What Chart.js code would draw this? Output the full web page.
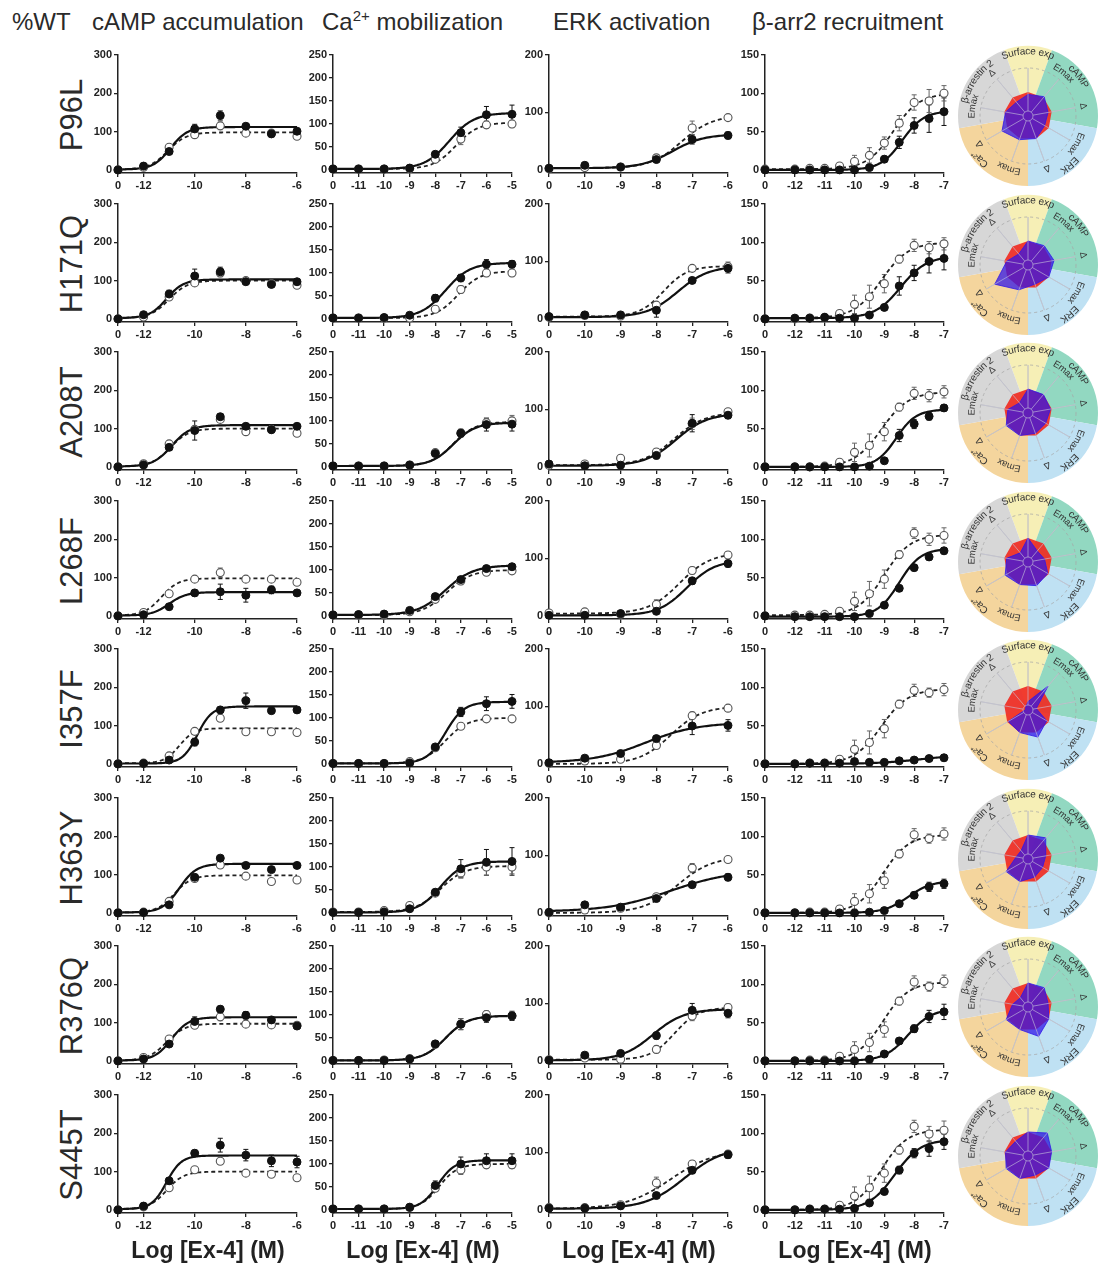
<!DOCTYPE html>
<html>
<head>
<meta charset="utf-8">
<script src="https://cdn.jsdelivr.net/npm/chart.js@4.4.1/dist/chart.umd.min.js"></script>
<style>
  body { margin: 0; background: #fff; width: 1103px; height: 1270px; position: relative; overflow: hidden;
         font-family: "Liberation Sans", Arial, sans-serif; color: #2a2a2a; }
  .hdr { position: absolute; top: 8px; font-size: 24px; line-height: 28px; white-space: nowrap; }
  .hdr sup { font-size: 15px; line-height: 0; vertical-align: 9px; }
  .mutlab { position: absolute; width: 120px; height: 40px; line-height: 40px; text-align: center;
            font-size: 31px; transform: rotate(-90deg); white-space: nowrap; }
  .xtitle { position: absolute; top: 1236px; width: 220px; text-align: center; font-weight: bold;
            font-size: 23px; line-height: 28px; white-space: nowrap; color: #222; }
  canvas { position: absolute; }
</style>
</head>
<body>
<div class="hdr" style="left:12px">%WT</div>
<div class="hdr" style="left:92px">cAMP accumulation</div>
<div class="hdr" style="left:322px">Ca<sup>2+</sup> mobilization</div>
<div class="hdr" style="left:553px">ERK activation</div>
<div class="hdr" style="left:752px">β-arr2 recruitment</div>

<script>
// ------------------------------------------------------------
// Данные: мутанты GLP-1R, кривые доза-ответ (%WT) и радары
// ------------------------------------------------------------
const mutants = ["P96L", "H171Q", "A208T", "L268F", "I357F", "H363Y", "R376Q", "S445T"];

// cAMP accumulation (первая точка = "0", без агониста)
const campDoses = [-13, -12, -11, -10, -9, -8, -7, -6];
const campTicksX = [-13, -12, -10, -8, -6];
const campTicksY = [0, 100, 200, 300];
const campMut = [
  [0, 10, 48, 107, 142, 114, 94, 101],
  [0, 11, 65, 112, 123, 97, 90, 97],
  [0, 5, 51, 95, 131, 106, 97, 106],
  [0, 3, 24, 60, 63, 54, 68, 60],
  [0, 1, 10, 57, 141, 165, 139, 141],
  [0, 1, 21, 93, 143, 124, 113, 124],
  [0, 5, 44, 103, 135, 119, 107, 91],
  [0, 10, 76, 148, 169, 143, 128, 125],
];
const campWT = [
  [0, 7, 59, 92, 115, 96, 96, 88],
  [0, 5, 57, 94, 120, 100, 92, 88],
  [0, 8, 60, 98, 124, 92, 98, 88],
  [0, 9, 58, 96, 113, 96, 96, 88],
  [0, 2, 21, 85, 119, 84, 84, 82],
  [0, 2, 30, 90, 125, 96, 82, 86],
  [0, 9, 57, 93, 115, 96, 94, 93],
  [0, 8, 58, 105, 127, 96, 93, 84],
];
const campMutErr = [
  [0, 3, 8, 12, 12, 5, 5, 5],
  [0, 4, 10, 18, 12, 5, 5, 5],
  [0, 3, 8, 25, 8, 5, 5, 5],
  [0, 3, 5, 8, 20, 18, 10, 6],
  [0, 2, 4, 10, 8, 20, 5, 5],
  [0, 2, 5, 6, 6, 5, 5, 5],
  [0, 3, 6, 12, 8, 10, 5, 5],
  [0, 4, 8, 8, 18, 15, 15, 15],
];
const campWTErr = [
  [0, 3, 6, 6, 10, 5, 5, 5],
  [0, 3, 6, 8, 10, 5, 5, 5],
  [0, 3, 6, 8, 8, 5, 5, 5],
  [0, 3, 6, 6, 12, 5, 5, 5],
  [0, 2, 5, 6, 8, 5, 5, 5],
  [0, 2, 5, 6, 8, 5, 5, 5],
  [0, 3, 6, 6, 10, 5, 5, 5],
  [0, 3, 6, 6, 8, 5, 5, 5],
];
// параметры подгонки: [bottom, top, logEC50, hill]
const campFitMut = [
  [1, 112, -10.95, 1.3], [2, 103, -11.1, 1.3], [1, 109, -10.9, 1.2], [1, 62, -11.0, 1.3],
  [1, 150, -9.9, 1.5], [1, 128, -10.6, 1.3], [1, 114, -10.9, 1.3], [2, 142, -11.1, 1.5],
];
const campFitWT = [
  [1, 98, -11.05, 1.2], [2, 100, -11.0, 1.2], [1, 100, -10.95, 1.2], [1, 98, -11.3, 1.3],
  [2, 93, -10.6, 1.5], [1, 98, -10.8, 1.3], [1, 97, -11.1, 1.2], [2, 100, -11.1, 1.3],
];

// Ca2+ mobilization
const caDoses = [-12, -11, -10, -9, -8, -7, -6, -5];
const caTicksX = [-12, -11, -10, -9, -8, -7, -6, -5];
const caTicksY = [0, 50, 100, 150, 200, 250];
const caMut = [
  [2, 2, 2, 4, 34, 81, 120, 121],
  [2, 2, 3, 8, 45, 89, 119, 119],
  [2, 2, 2, 4, 29, 73, 92, 93],
  [2, 3, 4, 12, 42, 79, 103, 107],
  [1, 1, 1, 2, 37, 113, 131, 136],
  [1, 1, 2, 9, 45, 96, 110, 112],
  [1, 1, 1, 4, 37, 80, 94, 98],
  [2, 2, 2, 6, 53, 100, 107, 107],
];
const caWT = [
  [2, 2, 2, 3, 23, 67, 98, 100],
  [2, 2, 2, 2, 21, 64, 100, 100],
  [2, 2, 2, 4, 31, 74, 96, 100],
  [2, 2, 2, 9, 36, 76, 95, 98],
  [1, 1, 1, 5, 35, 82, 98, 98],
  [2, 2, 5, 16, 43, 87, 100, 100],
  [1, 1, 2, 5, 36, 80, 101, 98],
  [2, 2, 2, 5, 47, 87, 98, 98],
];
const caMutErr = [
  [0, 0, 0, 2, 5, 12, 18, 20],
  [0, 0, 0, 2, 8, 8, 10, 8],
  [0, 0, 0, 2, 6, 8, 14, 15],
  [0, 0, 0, 2, 4, 6, 5, 5],
  [0, 0, 0, 1, 5, 10, 15, 15],
  [0, 0, 0, 2, 6, 20, 28, 30],
  [0, 0, 0, 2, 6, 12, 10, 10],
  [0, 0, 0, 2, 10, 15, 15, 15],
];
const caWTErr = [
  [0, 0, 0, 2, 4, 12, 8, 8],
  [0, 0, 0, 2, 4, 8, 8, 8],
  [0, 0, 0, 2, 4, 8, 10, 12],
  [0, 0, 0, 2, 4, 8, 6, 6],
  [0, 0, 0, 2, 4, 6, 6, 6],
  [0, 0, 0, 2, 4, 10, 18, 15],
  [0, 0, 0, 2, 4, 12, 8, 8],
  [0, 0, 0, 2, 4, 10, 8, 8],
];
const caFitMut = [
  [2, 124, -7.45, 0.9], [2, 122, -7.6, 0.9], [2, 96, -7.3, 1.0], [2, 110, -7.6, 0.8],
  [1, 135, -7.6, 1.2], [1, 112, -7.8, 1.0], [1, 98, -7.6, 1.0], [2, 108, -7.9, 1.3],
];
const caFitWT = [
  [2, 103, -7.2, 1.0], [2, 104, -7.1, 1.0], [2, 98, -7.3, 1.0], [2, 100, -7.55, 0.9],
  [1, 100, -7.6, 1.0], [2, 102, -7.8, 0.9], [1, 98, -7.6, 1.0], [2, 100, -7.85, 1.2],
];

// ERK activation
const erkDoses = [-11, -10, -9, -8, -7, -6];
const erkTicksX = [-11, -10, -9, -8, -7, -6];
const erkTicksY = [0, 100, 200];
const erkMut = [
  [3, 8, 5, 18, 53, 60],
  [4, 7, 7, 15, 67, 88],
  [5, 2, 3, 20, 76, 90],
  [1, 1, 4, 8, 61, 91],
  [2, 10, 18, 44, 66, 67],
  [1, 14, 10, 25, 49, 62],
  [1, 10, 13, 44, 88, 83],
  [3, 3, 7, 25, 69, 96],
];
const erkWT = [
  [2, 4, 5, 21, 73, 91],
  [3, 6, 5, 24, 88, 91],
  [3, 5, 15, 26, 75, 96],
  [5, 7, 3, 20, 79, 106],
  [1, 5, 8, 32, 84, 97],
  [0, 5, 8, 28, 78, 93],
  [2, 5, 3, 20, 78, 93],
  [4, 4, 9, 47, 80, 97],
];
const erkMutErr = [
  [0, 3, 2, 4, 8, 6],
  [0, 2, 2, 12, 5, 8],
  [0, 2, 2, 6, 15, 6],
  [0, 2, 2, 4, 6, 6],
  [0, 3, 4, 5, 15, 10],
  [0, 4, 3, 4, 4, 6],
  [0, 3, 3, 6, 12, 8],
  [0, 2, 3, 4, 6, 6],
];
const erkWTErr = [
  [0, 2, 3, 4, 12, 5],
  [0, 2, 2, 6, 4, 8],
  [0, 2, 4, 6, 10, 5],
  [0, 2, 2, 8, 6, 6],
  [0, 2, 3, 5, 6, 5],
  [0, 2, 3, 5, 8, 5],
  [0, 2, 2, 6, 8, 6],
  [0, 2, 3, 10, 6, 6],
];
const erkFitMut = [
  [3, 62, -7.55, 1.0], [3, 92, -7.4, 1.0], [2, 93, -7.45, 1.0], [1, 97, -7.15, 1.1],
  [2, 72, -8.3, 0.6], [2, 75, -7.6, 0.5], [1, 90, -8.1, 1.0], [2, 110, -7.2, 0.8],
];
const erkFitWT = [
  [3, 95, -7.3, 1.0], [4, 92, -7.8, 1.3], [3, 95, -7.5, 1.0], [4, 110, -7.35, 1.0],
  [0, 100, -7.6, 1.0], [0, 98, -7.4, 0.9], [2, 93, -7.5, 1.3], [2, 105, -7.6, 0.7],
];

// beta-arrestin 2 recruitment
const barrDoses = [-13, -12, -11.5, -11, -10.5, -10, -9.5, -9, -8.5, -8, -7.5, -7];
const barrTicksX = [-13, -12, -11, -10, -9, -8, -7];
const barrTicksY = [0, 50, 100, 150];
const barrMut = [
  [0, 0, 0, 0, 0, 0, 3, 14, 36, 58, 67, 76],
  [0, 1, 1, 2, 1, 1, 5, 15, 43, 60, 75, 79],
  [0, 0, 0, 0, 0, 0, 1, 8, 41, 56, 66, 77],
  [0, -1, -1, -1, -1, -1, 3, 14, 36, 63, 77, 85],
  [0, 0, 1, 1, 1, 3, 2, 2, 4, 5, 7, 8],
  [0, 0, 0, 0, 0, 0, 1, 3, 12, 23, 34, 38],
  [0, 0, 0, 0, 0, 0, 2, 9, 26, 42, 58, 64],
  [0, 0, 1, 1, 1, 2, 9, 24, 52, 74, 80, 89],
];
const barrWT = [
  [1, 1, 2, 2, 5, 11, 19, 35, 61, 88, 90, 100],
  [0, 0, 1, 2, 7, 19, 29, 46, 78, 96, 93, 98],
  [0, 0, 0, 1, 6, 19, 28, 46, 78, 96, 93, 98],
  [0, 1, 1, 2, 6, 19, 29, 48, 80, 108, 100, 105],
  [0, 0, 1, 1, 6, 19, 28, 46, 78, 96, 93, 97],
  [0, 0, 1, 1, 5, 15, 25, 42, 77, 102, 97, 103],
  [0, 0, 1, 1, 6, 15, 24, 41, 78, 103, 97, 104],
  [0, 0, 1, 1, 6, 18, 29, 48, 78, 109, 99, 104],
];
const barrMutErr = [
  [0, 0, 0, 0, 0, 0, 2, 4, 8, 10, 18, 18],
  [0, 0, 0, 0, 0, 0, 2, 4, 12, 10, 15, 15],
  [0, 0, 0, 0, 0, 0, 2, 3, 8, 6, 5, 4],
  [0, 0, 0, 0, 0, 0, 2, 3, 4, 4, 4, 4],
  [0, 0, 0, 0, 0, 0, 1, 1, 2, 2, 3, 4],
  [0, 0, 0, 0, 0, 0, 1, 2, 3, 4, 6, 6],
  [0, 0, 0, 0, 0, 0, 2, 3, 4, 5, 8, 10],
  [0, 0, 0, 0, 0, 0, 2, 4, 5, 6, 10, 10],
];
const barrWTErr = [
  [0, 0, 1, 1, 3, 8, 10, 8, 10, 10, 15, 10],
  [0, 0, 1, 1, 3, 12, 15, 12, 5, 8, 8, 8],
  [0, 0, 1, 1, 3, 12, 15, 12, 5, 8, 8, 8],
  [0, 0, 1, 1, 3, 12, 16, 12, 5, 7, 8, 10],
  [0, 0, 1, 1, 3, 12, 15, 12, 5, 8, 6, 8],
  [0, 0, 1, 1, 3, 10, 12, 10, 5, 8, 6, 8],
  [0, 0, 1, 1, 3, 10, 12, 10, 5, 8, 6, 8],
  [0, 0, 1, 1, 3, 12, 15, 12, 5, 8, 10, 12],
];
const barrFitMut = [
  [0, 77, -8.4, 1.2], [1, 82, -8.45, 1.0], [0, 75, -8.6, 1.3], [-1, 88, -8.5, 1.2],
  [0, 12, -7.8, 0.6], [0, 42, -8.2, 1.1], [0, 68, -8.2, 1.1], [0, 92, -8.65, 1.0],
];
const barrFitWT = [
  [1, 100, -8.7, 1.0], [1, 100, -9.1, 0.95], [0, 98, -9.1, 0.95], [1, 106, -9.0, 1.0],
  [0, 98, -9.1, 0.95], [0, 102, -9.05, 1.0], [0, 103, -9.05, 1.0], [0, 105, -9.1, 1.0],
];

// радар: [Surface exp, cAMP Emax, cAMP Δ, ERK Emax, ERK Δ, Ca Emax, Ca Δ, β-arr Emax, β-arr Δ]
const radarAxisLabels = ["", "Emax", "Δ", "Emax", "Δ", "Emax", "Δ", "Emax", "Δ"];
const radarWT = [1, 1, 1, 1, 1, 1, 1, 1, 1];
const radarMut = [
  [0.9, 1.05, 0.85, 0.8, 1.0, 1.05, 1.25, 0.95, 0.75],
  [1.0, 1.05, 1.1, 1.0, 0.85, 1.1, 1.6, 0.9, 0.6],
  [1.0, 1.0, 0.95, 0.85, 0.9, 1.0, 1.05, 0.85, 0.55],
  [1.0, 0.6, 0.7, 0.95, 1.05, 1.0, 1.1, 0.9, 0.5],
  [0.35, 1.3, 0.35, 0.9, 1.2, 1.0, 0.95, 0.1, 0.15],
  [1.0, 1.15, 0.75, 0.7, 0.8, 1.0, 1.05, 0.5, 0.45],
  [1.0, 1.05, 0.85, 1.0, 1.3, 1.0, 1.05, 0.65, 0.5],
  [1.0, 1.25, 1.0, 1.0, 0.85, 1.0, 1.05, 0.95, 0.8],
];
const sectorNames = ["Surface exp", "cAMP", "ERK", "Ca²⁺", "β-arrestin 2"];

// ------------------------------------------------------------
// Раскладка
// ------------------------------------------------------------
const ROW_TOP = 55, ROW_STEP = 148.5;
const PLOT_W = 179, PLOT_H = 118, PAD_TOP = 9, PAD_RIGHT = 8, Y_W = 40, X_H = 22;
const TICK_FONT = { family: "'Liberation Sans Narrow','Liberation Sans',Arial,sans-serif", size: 11, weight: "bold" };
const AXIS_COLOR = "#222";

const sectorFrom = [-20, 20, 100, 180, 260];
const sectorTo = [20, 100, 180, 260, 340];
const sectorColors = ["#f6efb6", "#92d8c1", "#bfe1f3", "#f4d59d", "#d7d7d7"];
const sectorLabelAngle = [0, 52, 140, 228, 304];

const assays = [
  { doses: campDoses, ticksX: campTicksX, ticksY: campTicksY, mut: campMut, wt: campWT,
    mutErr: campMutErr, wtErr: campWTErr, fitMut: campFitMut, fitWT: campFitWT, axisX: 118 },
  { doses: caDoses, ticksX: caTicksX, ticksY: caTicksY, mut: caMut, wt: caWT,
    mutErr: caMutErr, wtErr: caWTErr, fitMut: caFitMut, fitWT: caFitWT, axisX: 333 },
  { doses: erkDoses, ticksX: erkTicksX, ticksY: erkTicksY, mut: erkMut, wt: erkWT,
    mutErr: erkMutErr, wtErr: erkWTErr, fitMut: erkFitMut, fitWT: erkFitWT, axisX: 549 },
  { doses: barrDoses, ticksX: barrTicksX, ticksY: barrTicksY, mut: barrMut, wt: barrWT,
    mutErr: barrMutErr, wtErr: barrWTErr, fitMut: barrFitMut, fitWT: barrFitWT, axisX: 765 },
];

function fitCurve(p, x0, x1) {
  const [bottom, top, ec50, hill] = p;
  const pts = [];
  for (let x = x0; x <= x1 + 1e-9; x += 0.05) {
    pts.push({ x, y: bottom + (top - bottom) / (1 + Math.pow(10, (ec50 - x) * hill)) });
  }
  return pts;
}

const errorBars = {
  id: "errorBars",
  beforeDatasetsDraw(chart) {
    const ctx = chart.ctx, xs = chart.scales.x, ys = chart.scales.y;
    chart.data.datasets.forEach(ds => {
      if (!ds.err) return;
      ctx.save();
      ctx.strokeStyle = ds.errColor;
      ctx.lineWidth = 1;
      ds.data.forEach((p, i) => {
        const e = ds.err[i];
        if (!e) return;
        const x = xs.getPixelForValue(p.x);
        const y1 = ys.getPixelForValue(p.y + e), y2 = ys.getPixelForValue(p.y - e);
        ctx.beginPath();
        ctx.moveTo(x, y1); ctx.lineTo(x, y2);
        ctx.moveTo(x - 2.5, y1); ctx.lineTo(x + 2.5, y1);
        ctx.moveTo(x - 2.5, y2); ctx.lineTo(x + 2.5, y2);
        ctx.stroke();
      });
      ctx.restore();
    });
  },
};

function makeCanvas(left, top, w, h) {
  const c = document.createElement("canvas");
  c.width = w; c.height = h;
  c.style.left = left + "px"; c.style.top = top + "px";
  c.style.width = w + "px"; c.style.height = h + "px";
  document.body.appendChild(c);
  return c;
}

function drawPanel(a, r) {
  const T = ROW_TOP + r * ROW_STEP;
  const xmin = a.ticksX[0], xmax = a.ticksX[a.ticksX.length - 1];
  const ymax = a.ticksY[a.ticksY.length - 1];
  const canvas = makeCanvas(a.axisX - Y_W, Math.round(T - PAD_TOP), Y_W + PLOT_W + PAD_RIGHT, PAD_TOP + PLOT_H + X_H);
  const pts = (vals) => a.doses.map((d, i) => ({ x: d, y: vals[i] }));

  new Chart(canvas, {
    type: "scatter",
    data: {
      datasets: [
        { data: pts(a.mut[r]), err: a.mutErr[r], errColor: "#111", pointRadius: 4, pointBackgroundColor: "#111",
          pointBorderColor: "#111", pointBorderWidth: 1, showLine: false, clip: false, order: 0 },
        { data: pts(a.wt[r]), err: a.wtErr[r], errColor: "#666", pointRadius: 4, pointBackgroundColor: "#fff",
          pointBorderColor: "#555", pointBorderWidth: 1.1, showLine: false, clip: false, order: 1 },
        { data: fitCurve(a.fitMut[r], xmin, xmax), showLine: true, pointRadius: 0, borderColor: "#111",
          borderWidth: 2.2, clip: false, order: 2 },
        { data: fitCurve(a.fitWT[r], xmin, xmax), showLine: true, pointRadius: 0, borderColor: "#222",
          borderWidth: 1.8, borderDash: [4, 3], clip: false, order: 3 },
      ],
    },
    options: {
      animation: false,
      responsive: false,
      events: [],
      layout: { padding: { top: PAD_TOP, right: PAD_RIGHT, left: 0, bottom: 0 } },
      plugins: { legend: { display: false }, tooltip: { enabled: false } },
      scales: {
        x: {
          type: "linear", min: xmin, max: xmax,
          afterBuildTicks: s => { s.ticks = a.ticksX.map(v => ({ value: v })); },
          afterFit: s => { s.height = X_H; },
          grid: { drawOnChartArea: false, drawTicks: true, tickLength: 4, color: AXIS_COLOR, lineWidth: 1.3 },
          border: { color: AXIS_COLOR, width: 1.5 },
          ticks: { color: "#222", font: TICK_FONT, padding: 2, autoSkip: false, maxRotation: 0,
                   callback: v => (v === xmin ? "0" : String(v)) },
        },
        y: {
          type: "linear", min: -0.027 * ymax, max: ymax,
          afterBuildTicks: s => { s.ticks = a.ticksY.map(v => ({ value: v })); },
          afterFit: s => { s.width = Y_W; },
          grid: { drawOnChartArea: false, drawTicks: true, tickLength: 4, color: AXIS_COLOR, lineWidth: 1.3 },
          border: { color: AXIS_COLOR, width: 1.5 },
          ticks: { color: "#222", font: TICK_FONT, padding: 2, callback: v => String(v) },
        },
      },
    },
    plugins: [errorBars],
  });
}

function arcText(ctx, text, cx, cy, rad, angDeg) {
  const total = ctx.measureText(text).width;
  let a = angDeg * Math.PI / 180 - total / (2 * rad);
  for (const ch of text) {
    const w = ctx.measureText(ch).width;
    const mid = a + w / (2 * rad);
    ctx.save();
    ctx.translate(cx + rad * Math.sin(mid), cy - rad * Math.cos(mid));
    ctx.rotate(mid);
    ctx.fillText(ch, 0, 0);
    ctx.restore();
    a += w / rad;
  }
}

const radarDecor = {
  id: "radarDecor",
  beforeDatasetsDraw(chart) {
    const s = chart.scales.r, ctx = chart.ctx, cx = s.xCenter, cy = s.yCenter;
    ctx.save();
    sectorNames.forEach((name, k) => {
      ctx.beginPath();
      ctx.moveTo(cx, cy);
      ctx.arc(cx, cy, 70, (sectorFrom[k] - 90) * Math.PI / 180, (sectorTo[k] - 90) * Math.PI / 180);
      ctx.closePath();
      ctx.fillStyle = sectorColors[k];
      ctx.fill();
    });
    ctx.setLineDash([3, 3]);
    ctx.strokeStyle = "rgba(165,165,165,0.75)";
    ctx.lineWidth = 1;
    ctx.beginPath();
    ctx.arc(cx, cy, s.drawingArea, 0, Math.PI * 2);
    ctx.stroke();
    ctx.setLineDash([]);
    // серые спицы под полигонами до пунктирной окружности
    ctx.strokeStyle = "rgba(175,175,175,0.7)";
    for (let i = 0; i < radarWT.length; i++) {
      const a = (i * 40) * Math.PI / 180;
      ctx.beginPath();
      ctx.moveTo(cx, cy);
      ctx.lineTo(cx + s.drawingArea * Math.sin(a), cy - s.drawingArea * Math.cos(a));
      ctx.stroke();
    }
    ctx.fillStyle = "#333";
    ctx.textAlign = "center";
    ctx.textBaseline = "middle";
    ctx.font = "10px 'Liberation Sans', Arial, sans-serif";
    sectorNames.forEach((name, k) => arcText(ctx, name, cx, cy, 64.5, sectorLabelAngle[k]));
    ctx.font = "9.5px 'Liberation Sans', Arial, sans-serif";
    radarAxisLabels.forEach((lab, i) => {
      if (lab) arcText(ctx, lab, cx, cy, 56, i * 40);
    });
    ctx.restore();
  },
  afterDatasetsDraw(chart) {
    const s = chart.scales.r, ctx = chart.ctx, cx = s.xCenter, cy = s.yCenter;
    ctx.save();
    ctx.strokeStyle = "rgba(200,200,220,0.6)";
    ctx.lineWidth = 1;
    for (let i = 0; i < radarWT.length; i++) {
      const a = (i * 40) * Math.PI / 180;
      ctx.beginPath();
      ctx.moveTo(cx + 5 * Math.sin(a), cy - 5 * Math.cos(a));
      ctx.lineTo(cx + s.drawingArea * Math.sin(a), cy - s.drawingArea * Math.cos(a));
      ctx.stroke();
    }
    ctx.beginPath();
    ctx.arc(cx, cy, 5, 0, Math.PI * 2);
    ctx.stroke();
    ctx.restore();
  },
};

function drawRadar(r) {
  const cy = ROW_TOP + r * ROW_STEP + 61;
  const canvas = makeCanvas(1028 - 75, Math.round(cy - 75), 150, 150);
  new Chart(canvas, {
    type: "radar",
    data: {
      labels: radarWT.map(() => ""),
      datasets: [
        // мутант рисуется поверх WT
        { data: radarMut[r], backgroundColor: "rgba(48,22,232,0.74)", borderColor: "rgba(48,22,232,0.8)",
          borderWidth: 1, pointRadius: 0 },
        { data: radarWT, backgroundColor: "rgba(240,45,35,0.92)", borderWidth: 0, pointRadius: 0 },
      ],
    },
    options: {
      animation: false,
      responsive: false,
      events: [],
      layout: { padding: 27 },
      plugins: { legend: { display: false }, tooltip: { enabled: false } },
      scales: {
        r: {
          min: 0, max: 2,
          ticks: { display: false },
          grid: { display: false },
          angleLines: { display: false },
          pointLabels: { display: false },
        },
      },
    },
    plugins: [radarDecor],
  });
}

function addLabel(cls, text, style) {
  const d = document.createElement("div");
  d.className = cls;
  d.textContent = text;
  Object.assign(d.style, style);
  document.body.appendChild(d);
}

mutants.forEach((m, r) => {
  const T = ROW_TOP + r * ROW_STEP;
  addLabel("mutlab", m, { left: (72 - 60) + "px", top: (T + 60 - 20) + "px" });
  assays.forEach(a => drawPanel(a, r));
  drawRadar(r);
});
assays.forEach(a => addLabel("xtitle", "Log [Ex-4] (M)", { left: (a.axisX + 90 - 110) + "px" }));
</script>
</body>
</html>
